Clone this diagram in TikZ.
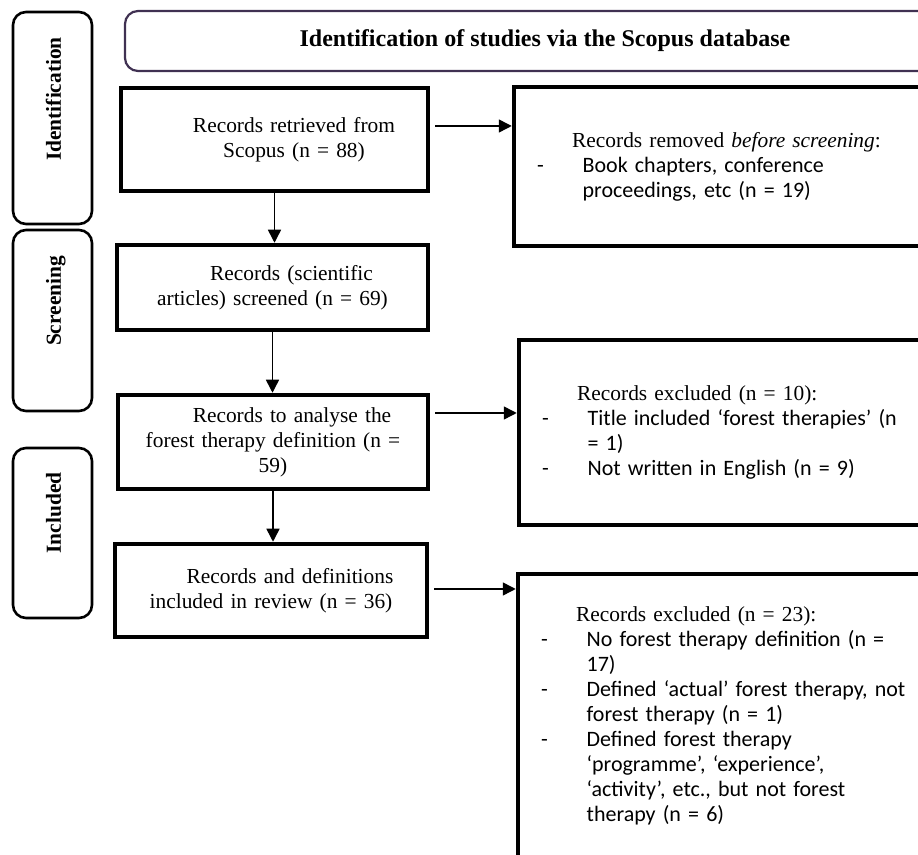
\documentclass[tikz,border=0pt]{standalone}
\usepackage{fontspec}
\setmainfont{Liberation Serif}
\newfontfamily\carlito{Carlito}
\usetikzlibrary{arrows.meta,positioning}
\definecolor{hdrpurple}{RGB}{64,49,82}
\newcommand{\listfont}{\carlito\fontsize{11}{12.5}\selectfont}
\newcommand{\dashitem}{\hspace*{-17.5pt}\makebox[22.75pt][l]{-}}
\newcommand{\contline}{\hspace*{5.25pt}}

\begin{document}
\begin{tikzpicture}[x=0.5pt,y=-0.5pt,
  box/.style={draw,line width=2.25pt,inner sep=0pt,align=center,font=\fontsize{10.7}{12.5}\selectfont},
  sidebox/.style={draw,line width=2.25pt,inner sep=0pt},
  phase/.style={draw,line width=1.3pt,rounded corners=6.5pt,inner sep=0pt,minimum width=39.5pt},
  phaselbl/.style={rotate=90,anchor=base,font=\bfseries\fontsize{10.7}{12.5}\selectfont},
  sidetxt/.style={text width=200pt,align=left,inner sep=0pt,font=\fontsize{10.7}{12.5}\selectfont},
  arr/.style={line width=0.75pt,-{Triangle[length=6.5pt,width=6.5pt]}}]
\useasboundingbox (0,0) rectangle (918,855);
\clip (0,0) rectangle (918,855);

% phases on the left
\node[phase,minimum height=106pt] (idbox) at (52.5,118) {};
\node[phase,minimum height=90.5pt] (scbox) at (52.5,320.5) {};
\node[phase,minimum height=85pt] (inbox) at (52.5,533) {};
\node[phaselbl] (idlbl) at (61,99) {Identification};
\node[phaselbl] (sclbl) at (61,301) {Screening};
\node[phaselbl] (inlbl) at (61,513) {Included};

% header
\node[draw=hdrpurple,line width=1.1pt,rounded corners=6.5pt,inner sep=0pt,
  minimum width=420pt,minimum height=30pt,font=\bfseries\fontsize{12}{14}\selectfont]
  (hdr) at (545,41) {Identification of studies via the Scopus database};

% main column
\node[box,text width=153.5pt,minimum height=51.5pt] (A) at (274.5,139.5)
  {\hspace*{19.5pt}Records retrieved from\\ \hspace*{19.5pt}Scopus (n = 88)};
\node[box,text width=155.5pt,minimum height=42.5pt] (B) at (272.5,287.5)
  {\hspace*{19pt}Records (scientific\\ articles) screened (n = 69)};
\node[box,text width=155pt,minimum height=47pt] (C) at (273,442)
  {\hspace*{19pt}Records to analyse the\\ forest therapy definition (n =\\ 59)};
\node[box,text width=156pt,minimum height=46.5pt] (D) at (271,590.5)
  {\hspace*{19pt}Records and definitions\\ included in review (n = 36)};

% side boxes
\node[sidebox,minimum width=223pt,minimum height=79.5pt] (R1) at (737,166.5) {};
\node[sidebox,minimum width=220.5pt,minimum height=92.5pt] (R2) at (739.5,432.5) {};
\node[sidebox,minimum width=221pt,minimum height=141.5pt] (R3) at (739,715.5) {};

\node[sidetxt,right=30pt of R1.west] (R1txt)
  {Records removed \textit{before screening}:\\
   \listfont\dashitem Book chapters, conference\\
   \contline proceedings, etc (n = 19)};
\node[sidetxt,right=30pt of R2.west] (R2txt)
  {Records excluded (n = 10):\\
   \listfont\dashitem Title included ‘forest therapies’ (n\\
   \contline = 1)\\
   \dashitem Not written in English (n = 9)};
\node[sidetxt,right=30pt of R3.west] (R3txt)
  {Records excluded (n = 23):\\
   \listfont\dashitem No forest therapy definition (n =\\
   \contline 17)\\
   \dashitem Defined ‘actual’ forest therapy, not\\
   \contline forest therapy (n = 1)\\
   \dashitem Defined forest therapy\\
   \contline ‘programme’, ‘experience’,\\
   \contline ‘activity’, etc., but not forest\\
   \contline therapy (n = 6)};

% arrows
\coordinate (rowA) at (0,126);
\coordinate (rowC) at (0,413);
\coordinate (rowD) at (0,589);
\draw[arr] (A.south) -- (A.south |- B.north);
\draw[arr] (B.south) -- (B.south |- C.north);
\draw[arr] (C.south) -- (C.south |- D.north);
\draw[arr,shorten <=2.5pt] (A.east |- rowA) -- (R1.west |- rowA);
\draw[arr,shorten <=2.5pt] (C.east |- rowC) -- (R2.west |- rowC);
\draw[arr,shorten <=2.5pt] (D.east |- rowD) -- (R3.west |- rowD);
\end{tikzpicture}
\end{document}
